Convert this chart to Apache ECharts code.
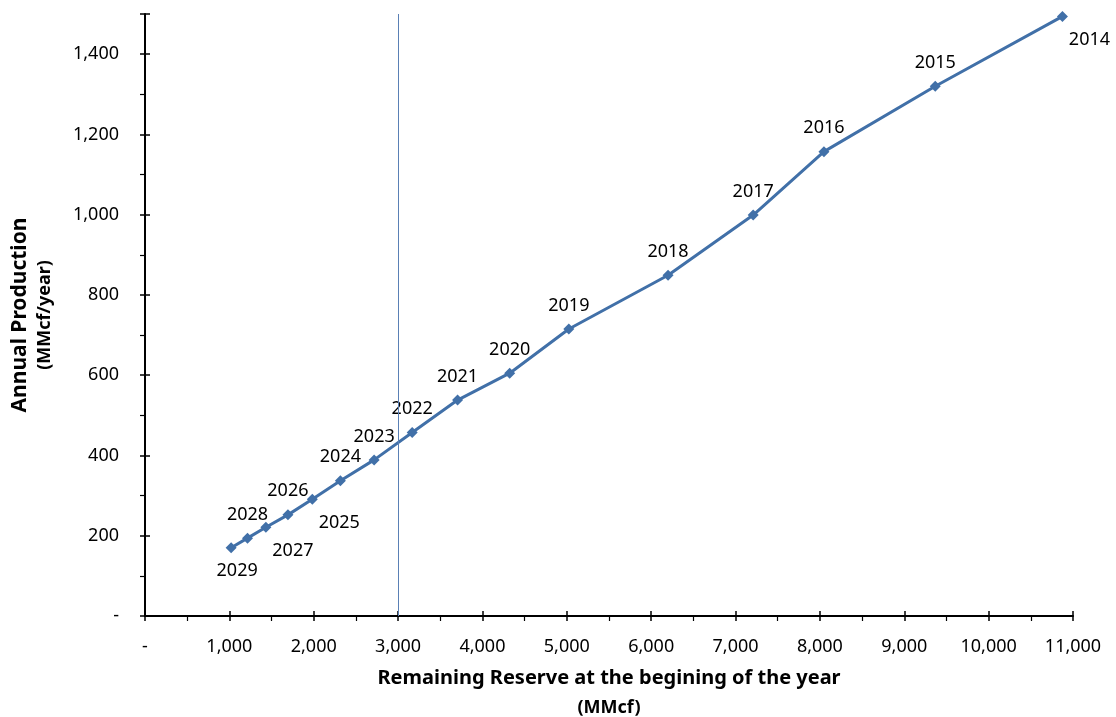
<!DOCTYPE html>
<html>
<head>
<meta charset="utf-8">
<script src="https://cdn.jsdelivr.net/npm/echarts@6/dist/echarts.min.js"></script>
<style>html,body{margin:0;padding:0;background:#fff}#c{width:1116px;height:717px}</style>
</head>
<body>
<div id="c"></div>
<script>
var years = ['2014','2015','2016','2017','2018','2019','2020','2021','2022','2023','2024','2025','2026','2027','2028','2029'];
var reserve = [10875,9367,8048,7209,6200,5024,4323,3705,3167,2716,2316,1983,1694,1433,1215,1021];
var production = [1494,1320,1157,999,849,715,605,538,457,389,337,291,252,221,194,170];
var refLine = 3000;
var belowRight = ['2014','2025','2027'];
var belowNear = ['2029'];

var FONT = '"Noto Sans", "Open Sans", sans-serif';
function fmt(v){ return v === 0 ? '-' : v.toLocaleString('en-US'); }

var data = reserve.map(function(x, i){
  var item = {value:[x, production[i]], name: years[i]};
  if (belowRight.indexOf(years[i]) >= 0) {
    item.label = {position:'bottom', offset:[27, 0]};
  } else if (belowNear.indexOf(years[i]) >= 0) {
    item.label = {position:'bottom', offset:[6, 0]};
  }
  return item;
});

var chart = echarts.init(document.getElementById('c'));
var axisText = {color:'#000', fontFamily:FONT, fontSize:18};
chart.setOption({
  animation:false,
  grid:{left:145, right:43, top:14, bottom:101, containLabel:false, outerBoundsMode:'none'},
  xAxis:[{
    type:'value', min:0, max:11000, interval:1000,
    axisLine:{show:true, lineStyle:{color:'#000', width:2}},
    axisTick:{show:true, length:5, lineStyle:{color:'#000', width:1.5}},
    minorTick:{show:true, splitNumber:2, length:5, lineStyle:{color:'#000', width:1.2}},
    splitLine:{show:false},
    axisLabel:Object.assign({formatter:fmt, margin:22}, axisText),
    name:'Remaining Reserve at the begining of the year',
    nameLocation:'middle', nameGap:52,
    nameTextStyle:{color:'#000', fontFamily:FONT, fontSize:20, fontWeight:'bold'}
  },{
    type:'value', min:0, max:11000, interval:1000, position:'bottom',
    axisLine:{show:false}, axisTick:{show:true, inside:true, length:5, lineStyle:{color:'#000', width:1.5}},
    axisLabel:{show:false}, splitLine:{show:false},
    name:'(MMcf)', nameLocation:'middle', nameGap:83,
    nameTextStyle:{color:'#000', fontFamily:FONT, fontSize:18, fontWeight:'bold'}
  }],
  yAxis:[{
    type:'value', min:0, max:1500, interval:200,
    axisLine:{show:true, lineStyle:{color:'#000', width:2}},
    axisTick:{show:true, length:5, lineStyle:{color:'#000', width:1.5}},
    minorTick:{show:true, splitNumber:2, length:5, lineStyle:{color:'#000', width:1.2}},
    splitLine:{show:false},
    axisLabel:Object.assign({formatter:fmt, margin:26, showMaxLabel:false}, axisText),
    name:'Annual Production', nameLocation:'middle', nameGap:114, nameRotate:90,
    nameTextStyle:{color:'#000', fontFamily:FONT, fontSize:21, fontWeight:'bold'}
  },{
    type:'value', min:0, max:1500, interval:200, position:'left',
    axisLine:{show:false}, axisTick:{show:true, inside:true, length:5, lineStyle:{color:'#000', width:1.5}},
    axisLabel:{show:false}, splitLine:{show:false},
    name:'(MMcf/year)', nameLocation:'middle', nameGap:91, nameRotate:90,
    nameTextStyle:{color:'#000', fontFamily:FONT, fontSize:18, fontWeight:'bold'}
  }],
  series:[{
    type:'line', xAxisIndex:0, yAxisIndex:0,
    data:data,
    symbol:'diamond', symbolSize:11,
    lineStyle:{color:'#4170A8', width:3},
    itemStyle:{color:'#4170A8'},
    label:{show:true, position:'top', distance:9, formatter:'{b}',
      color:'#000', fontFamily:FONT, fontSize:18},
    markLine:{
      silent:true, symbol:'none', label:{show:false},
      lineStyle:{color:'#5A80B5', width:1, type:'solid'},
      data:[{xAxis:refLine}]
    }
  }]
});
</script>
</body>
</html>
